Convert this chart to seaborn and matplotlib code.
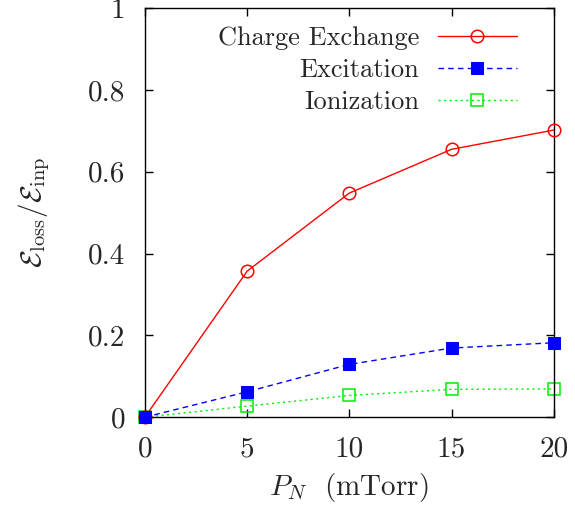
import matplotlib
matplotlib.use("Agg")
import matplotlib.pyplot as plt
import seaborn as sns
import pandas as pd

pressure = [0, 5, 10, 15, 20]
charge_exchange = [0.0, 0.357, 0.548, 0.655, 0.702]
excitation = [0.0, 0.062, 0.129, 0.169, 0.182]
ionization = [0.0, 0.027, 0.053, 0.068, 0.069]
x_ticks = [0, 5, 10, 15, 20]
y_ticks = [0, 0.2, 0.4, 0.6, 0.8, 1]
y_tick_labels = ["0", "0.2", "0.4", "0.6", "0.8", "1"]

sns.set_style("ticks")
plt.rcParams["font.family"] = ["cmr10"]
plt.rcParams["mathtext.fontset"] = "cm"
plt.rcParams["axes.unicode_minus"] = False

fig = plt.figure(figsize=(5.75, 5.15), dpi=100)
ax = fig.add_axes([0.252, 0.190, 0.711, 0.794])

df = pd.DataFrame({"P": pressure, "cx": charge_exchange, "ex": excitation, "io": ionization})

sns.lineplot(data=df, x="P", y="cx", ax=ax, color="#ff0000", lw=1.0, marker="o",
             markersize=9, markerfacecolor="none", markeredgecolor="#ff0000",
             markeredgewidth=1.1, label="Charge Exchange", clip_on=False, zorder=3)
sns.lineplot(data=df, x="P", y="ex", ax=ax, color="#0000ff", lw=1.0, marker="s",
             markersize=8, markerfacecolor="#0000ff", markeredgecolor="#0000ff",
             dashes=(4, 3), label="Excitation", clip_on=False, zorder=3)
sns.lineplot(data=df, x="P", y="io", ax=ax, color="#00ee00", lw=1.0, marker="s",
             markersize=8, markerfacecolor="none", markeredgecolor="#00ee00",
             markeredgewidth=1.1, dashes=(1.5, 2.5), label="Ionization", clip_on=False, zorder=2)

ax.set_xlim(0, 20)
ax.set_ylim(0, 1)
ax.set_xticks(x_ticks)
ax.set_xticklabels([str(t) for t in x_ticks])
ax.set_yticks(y_ticks)
ax.set_yticklabels(y_tick_labels)
ax.tick_params(direction="in", length=6, width=1.0, labelsize=21, top=True, right=True,
               color="black")
ax.tick_params(axis="x", pad=14)
ax.tick_params(axis="y", pad=14)
for s in ax.spines.values():
    s.set_visible(True)
    s.set_linewidth(1.0)
    s.set_color("black")

ax.set_xlabel(r"$P_N\ $ (mTorr)", fontsize=21, labelpad=6)
ax.set_ylabel(r"$\mathcal{E}_{\rm loss}/\mathcal{E}_{\rm inp}$", fontsize=21, labelpad=26)

leg = ax.legend(loc="upper right", frameon=False, markerfirst=False, fontsize=19,
                handlelength=3.0, handletextpad=0.7, labelspacing=0.3,
                borderaxespad=0.3, bbox_to_anchor=(0.955, 1.0))

fig.savefig("out.png", dpi=100)
